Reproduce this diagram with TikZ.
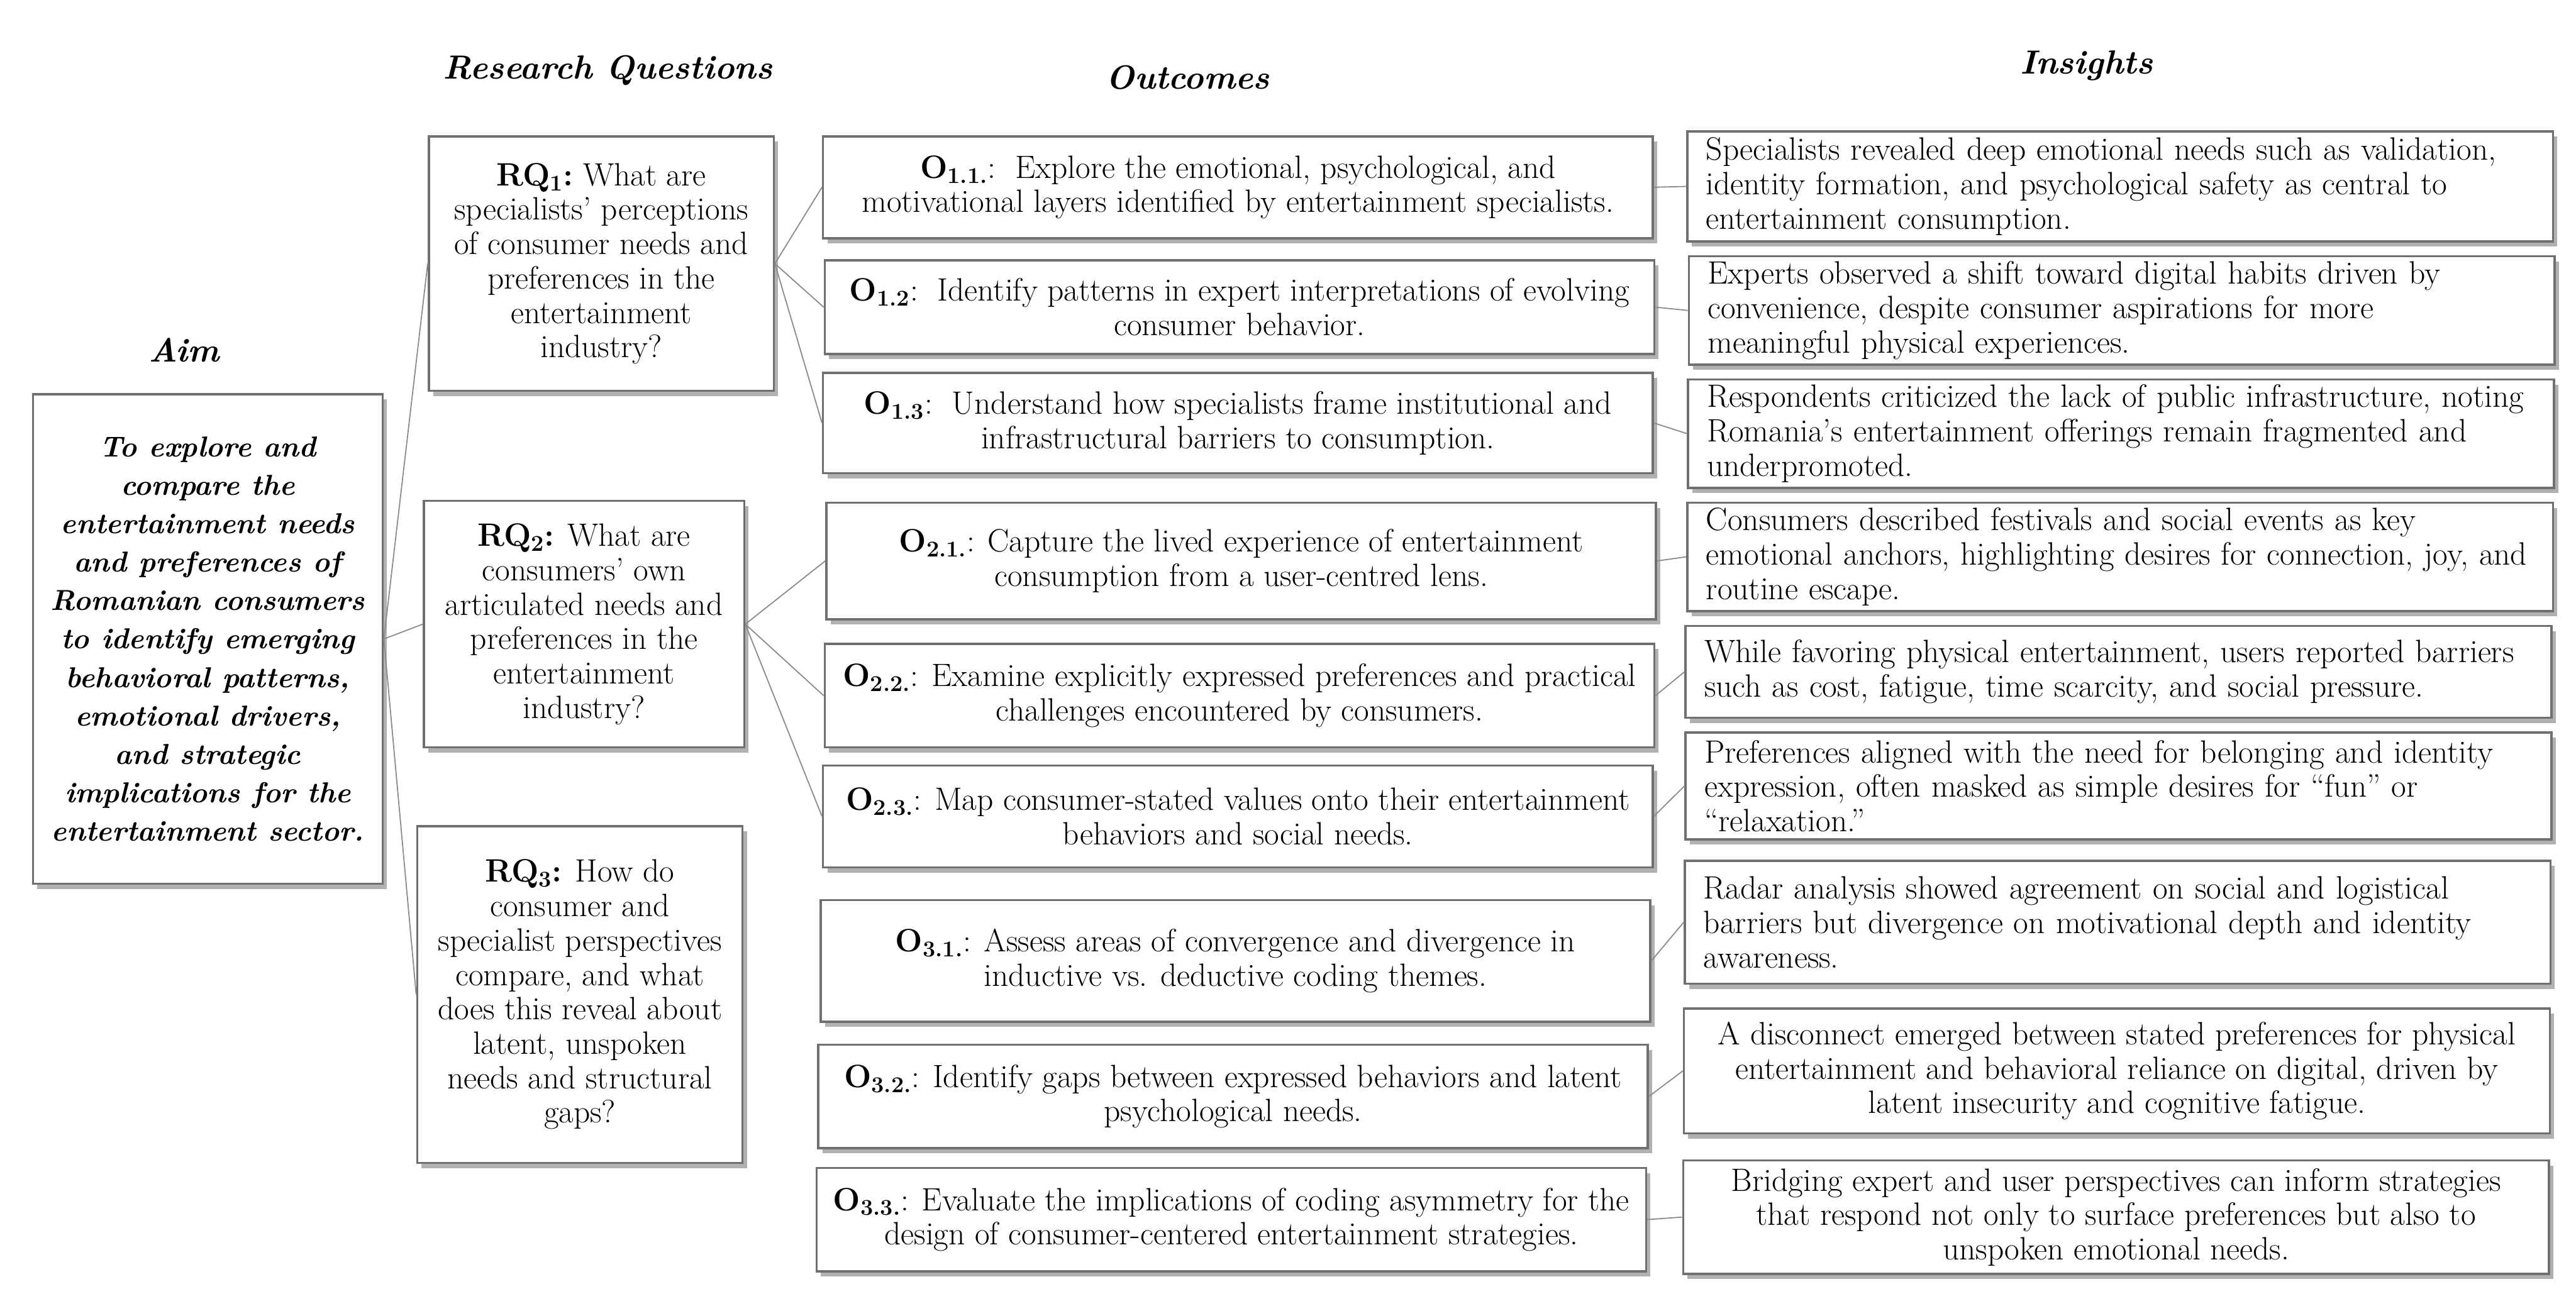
\documentclass[tikz,border=0pt]{standalone}
\usepackage{fontspec}
\usepackage{tikz}
\usetikzlibrary{positioning, shadows}
\definecolor{boxline}{RGB}{112,112,112}
\definecolor{linkgray}{RGB}{140,140,140}
\definecolor{shadowgray}{RGB}{100,100,100}

\newcommand{\bodysize}{\fontsize{28}{29.8}\selectfont}
\newcommand{\aimsize}{\fontsize{25}{33.3}\selectfont}
\newcommand{\headsize}{\fontsize{29}{32}\selectfont}
\newcommand{\rqlabel}[1]{\textbf{RQ\textsubscript{#1}:}}
\newcommand{\olabel}[1]{\textbf{O\textsubscript{#1}}:}

\begin{document}
\begin{tikzpicture}[
  box/.style={draw=boxline, line width=1.9pt, fill=white, inner sep=0pt, font=\bodysize,
    drop shadow={shadow xshift=0.13cm, shadow yshift=-0.16cm, fill=shadowgray, opacity=0.5}},
  aimbox/.style={box, align=center, font=\aimsize\bfseries\itshape},
  rqbox/.style={box, align=center},
  outbox/.style={box, align=center, minimum width=25.25cm},
  insbox/.style={box, minimum width=26.35cm, text width=25.2cm, align=left},
  inscentre/.style={box, minimum width=26.35cm, align=center},
  heading/.style={font=\headsize\bfseries\itshape},
  link/.style={draw=linkgray, line width=1pt}
]
  \useasboundingbox (0,0) rectangle (78.4,-39.9);

  % column headings
  \node[heading] (aimhead) at (5.6,-10.65) {Aim};
  \node[heading] (rqhead) at (18.5,-2.15) {Research Questions};
  \node[heading] (outhead) at (36.15,-2.35) {Outcomes};
  \node[heading] (inshead) at (63.5,-2.0) {Insights};

  % aim
  \node[aimbox, minimum width=10.65cm, minimum height=14.9cm] (aim) at (6.325,-19.45)
    {To explore and\\compare the\\entertainment needs\\and preferences of\\Romanian consumers\\to identify emerging\\behavioral patterns,\\emotional drivers,\\and strategic\\implications for the\\entertainment sector.};

  % research questions
  \node[rqbox, minimum width=10.5cm, minimum height=7.75cm] (rq1) at (18.3,-8.025)
    {\rqlabel{1}\ What are\\specialists' perceptions\\of consumer needs and\\preferences in the\\entertainment\\industry?};
  \node[rqbox, minimum width=9.75cm, minimum height=7.5cm] (rq2) at (17.775,-19.0)
    {\rqlabel{2} What are\\consumers' own\\articulated needs and\\preferences in the\\entertainment\\industry?};
  \node[rqbox, minimum width=9.9cm, minimum height=10.25cm] (rq3) at (17.65,-30.275)
    {\rqlabel{3} How do\\consumer and\\specialist perspectives\\compare, and what\\does this reveal about\\latent, unspoken\\needs and structural\\gaps?};

  % outcomes
  \node[outbox, minimum height=3.1cm] (o11) at (37.675,-5.7)
    {\olabel{1.1.}\ \ Explore the emotional, psychological, and\\motivational layers identified by entertainment specialists.};
  \node[outbox, minimum height=2.85cm] (o12) at (37.725,-9.35)
    {\olabel{1.2}\ \ Identify patterns in expert interpretations of evolving\\consumer behavior.};
  \node[outbox, minimum height=3.05cm] (o13) at (37.675,-12.875)
    {\olabel{1.3}\ \ Understand how specialists frame institutional and\\infrastructural barriers to consumption.};
  \node[outbox, minimum height=3.55cm] (o21) at (37.775,-17.075)
    {\olabel{2.1.} Capture the lived experience of entertainment\\consumption from a user-centred lens.};
  \node[outbox, minimum height=3.15cm] (o22) at (37.725,-21.175)
    {\olabel{2.2.} Examine explicitly expressed preferences and practical\\challenges encountered by consumers.};
  \node[outbox, minimum height=3.1cm] (o23) at (37.675,-24.85)
    {\olabel{2.3.} Map consumer-stated values onto their entertainment\\behaviors and social needs.};
  \node[outbox, minimum height=3.7cm] (o31) at (37.6,-29.25)
    {\olabel{3.1.} Assess areas of convergence and divergence in\\inductive vs. deductive coding themes.};
  \node[outbox, minimum height=3.15cm] (o32) at (37.525,-33.375)
    {\olabel{3.2.} Identify gaps between expressed behaviors and latent\\psychological needs.};
  \node[outbox, minimum height=3.15cm] (o33) at (37.475,-37.125)
    {\olabel{3.3.} Evaluate the implications of coding asymmetry for the\\design of consumer-centered entertainment strategies.};

  % insights
  \node[insbox, minimum height=3.35cm] (ins1) at (64.525,-5.675)
    {Specialists revealed deep emotional needs such as validation,\\identity formation, and psychological safety as central to\\entertainment consumption.};
  \node[insbox, minimum height=3.3cm] (ins2) at (64.575,-9.45)
    {Experts observed a shift toward digital habits driven by\\convenience, despite consumer aspirations for more\\meaningful physical experiences.};
  \node[insbox, minimum height=3.3cm] (ins3) at (64.55,-13.2)
    {Respondents criticized the lack of public infrastructure, noting\\Romania's entertainment offerings remain fragmented and\\underpromoted.};
  \node[insbox, minimum height=3.3cm] (ins4) at (64.525,-16.95)
    {Consumers described festivals and social events as key\\emotional anchors, highlighting desires for connection, joy, and\\routine escape.};
  \node[insbox, minimum height=2.8cm] (ins5) at (64.475,-20.45)
    {While favoring physical entertainment, users reported barriers\\such as cost, fatigue, time scarcity, and social pressure.};
  \node[insbox, minimum height=3.25cm] (ins6) at (64.475,-23.925)
    {Preferences aligned with the need for belonging and identity\\expression, often masked as simple desires for ``fun'' or\\``relaxation.''};
  \node[insbox, minimum height=3.75cm] (ins7) at (64.45,-28.075)
    {Radar analysis showed agreement on social and logistical\\barriers but divergence on motivational depth and identity\\awareness.};
  \node[inscentre, minimum height=3.8cm] (ins8) at (64.425,-32.6)
    {A disconnect emerged between stated preferences for physical\\entertainment and behavioral reliance on digital, driven by\\latent insecurity and cognitive fatigue.};
  \node[inscentre, minimum height=3.45cm] (ins9) at (64.4,-37.05)
    {Bridging expert and user perspectives can inform strategies\\that respond not only to surface preferences but also to\\unspoken emotional needs.};

  % connectors
  \foreach \q in {rq1,rq2,rq3}
    \draw[link] (aim.east) -- (\q.west);
  \foreach \o in {o11,o12,o13}
    \draw[link] (rq1.east) -- (\o.west);
  \foreach \o in {o21,o22,o23}
    \draw[link] (rq2.east) -- (\o.west);
  \foreach \o/\i in {o11/ins1,o12/ins2,o13/ins3,o21/ins4,o22/ins5,o23/ins6,o31/ins7,o32/ins8,o33/ins9}
    \draw[link] (\o.east) -- (\i.west);
\end{tikzpicture}
\end{document}
